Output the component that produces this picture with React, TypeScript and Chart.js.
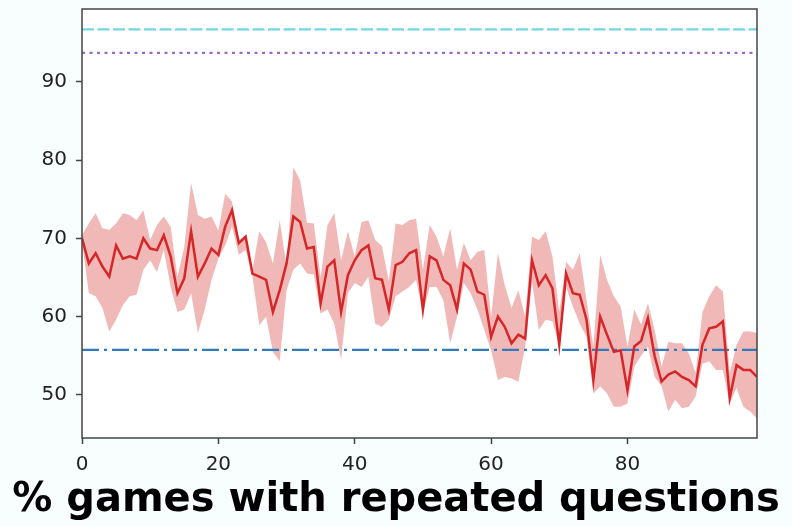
import React, { useEffect, useRef } from "react";
import { Chart, registerables } from "chart.js";

Chart.register(...registerables);

const X_VALUES = [
  0, 1, 2, 3, 4, 5, 6, 7, 8, 9, 10, 11, 12, 13, 14, 15, 16, 17, 18, 19,
  20, 21, 22, 23, 24, 25, 26, 27, 28, 29, 30, 31, 32, 33, 34, 35, 36, 37, 38, 39,
  40, 41, 42, 43, 44, 45, 46, 47, 48, 49, 50, 51, 52, 53, 54, 55, 56, 57, 58, 59,
  60, 61, 62, 63, 64, 65, 66, 67, 68, 69, 70, 71, 72, 73, 74, 75, 76, 77, 78, 79,
  80, 81, 82, 83, 84, 85, 86, 87, 88, 89, 90, 91, 92, 93, 94, 95, 96, 97, 98, 99,
];

const MEAN = [
  70.0, 66.8, 68.1, 66.4, 65.1, 69.1, 67.4, 67.7, 67.4, 70.0,
  68.7, 68.5, 70.4, 67.7, 63.0, 64.9, 70.9, 65.1, 66.8, 68.7,
  67.9, 71.5, 73.6, 69.4, 70.2, 65.5, 65.1, 64.7, 60.6, 63.4,
  66.8, 72.8, 72.1, 68.7, 68.9, 61.7, 66.4, 67.2, 60.6, 65.3,
  67.2, 68.5, 69.1, 64.9, 64.7, 60.9, 66.6, 67.0, 68.1, 68.5,
  60.9, 67.7, 67.2, 64.7, 64.0, 60.9, 66.8, 66.0, 63.2, 62.8,
  57.4, 60.0, 58.7, 56.6, 57.7, 57.2, 67.2, 64.0, 65.3, 63.6,
  56.4, 65.5, 63.0, 62.8, 59.6, 51.9, 60.0, 57.7, 55.5, 55.7,
  50.6, 56.2, 56.9, 59.8, 54.9, 51.7, 52.6, 53.0, 52.3, 51.9,
  51.1, 56.4, 58.5, 58.7, 59.4, 49.6, 53.8, 53.2, 53.2, 52.3,
];

const UPPER = [
  70.4, 71.9, 73.2, 71.3, 71.1, 71.9, 73.2, 73.0, 72.3, 73.6,
  69.8, 71.7, 72.8, 71.5, 65.1, 68.9, 77.1, 73.0, 72.5, 72.8,
  71.0, 75.7, 74.7, 69.8, 70.4, 66.0, 70.9, 69.5, 66.8, 72.3,
  66.4, 79.1, 77.4, 72.0, 71.9, 65.0, 71.7, 73.2, 67.2, 70.9,
  67.7, 72.1, 72.3, 69.8, 69.0, 64.5, 71.9, 71.7, 72.3, 72.5,
  66.0, 71.7, 70.2, 67.7, 71.3, 66.0, 69.4, 67.2, 68.3, 68.5,
  60.0, 68.1, 64.0, 61.1, 63.4, 60.0, 70.2, 69.8, 70.9, 67.7,
  60.6, 67.0, 66.0, 68.1, 62.1, 56.2, 67.9, 64.7, 62.6, 61.3,
  56.2, 60.9, 59.0, 61.7, 58.3, 53.6, 56.8, 56.6, 56.6, 55.3,
  52.8, 60.6, 62.6, 64.0, 63.2, 52.8, 56.4, 58.1, 58.1, 57.9,
];

const LOWER = [
  69.6, 63.0, 62.6, 61.1, 58.1, 59.6, 61.5, 62.6, 62.8, 66.0,
  67.2, 65.7, 68.5, 63.8, 60.6, 60.9, 63.0, 57.9, 60.9, 64.7,
  67.4, 69.1, 71.5, 67.9, 68.5, 65.1, 58.9, 60.0, 55.5, 54.3,
  63.4, 66.0, 66.8, 65.5, 65.4, 60.4, 60.9, 59.1, 54.5, 63.0,
  64.3, 63.8, 65.1, 59.1, 58.7, 59.6, 62.6, 63.2, 63.8, 64.7,
  60.4, 63.8, 63.8, 62.1, 56.6, 60.0, 64.3, 63.0, 60.9, 58.3,
  55.7, 51.9, 52.3, 52.1, 51.7, 56.2, 64.5, 58.3, 59.6, 59.4,
  56.2, 63.8, 61.3, 59.1, 57.4, 50.2, 51.1, 50.2, 48.5, 48.5,
  48.9, 53.6, 55.0, 56.2, 52.3, 51.1, 47.9, 49.4, 48.3, 48.5,
  49.8, 54.0, 54.3, 53.2, 53.2, 48.9, 50.9, 48.5, 47.9, 47.0,
];

const REF_CYAN = 96.7;
const REF_PURPLE = 93.7;
const REF_BLUE = 55.75;

const X_MIN = 0;
const X_MAX = 99;
const Y_MIN = 44.5;
const Y_MAX = 99.3;

const X_TICKS = [0, 20, 40, 60, 80];
const Y_TICKS = [50, 60, 70, 80, 90];

const TITLE = "% games with repeated questions";

const pts = (ys: number[]) => X_VALUES.map((x, i) => ({ x, y: ys[i] }));
const hline = (y: number) => [
  { x: X_MIN, y },
  { x: X_MAX, y },
];

const zeroPad = (s: any) => {
  s.paddingTop = 0;
  s.paddingBottom = 0;
  s.paddingLeft = 0;
  s.paddingRight = 0;
};

const framePlugin = {
  id: "frame",
  beforeDraw(chart: any) {
    const { ctx, chartArea: a, width, height } = chart;
    ctx.save();
    ctx.fillStyle = "#f8fdfe";
    ctx.fillRect(0, 0, width, height);
    ctx.fillStyle = "#ffffff";
    ctx.fillRect(a.left, a.top, a.right - a.left, a.bottom - a.top);
    ctx.restore();
  },
  afterDraw(chart: any) {
    const { ctx, chartArea: a } = chart;
    ctx.save();
    ctx.strokeStyle = "#444444";
    ctx.lineWidth = 1.5;
    ctx.strokeRect(a.left, a.top, a.right - a.left, a.bottom - a.top);
    ctx.restore();
  },
};

export default function App() {
  const ref = useRef<HTMLCanvasElement>(null);

  useEffect(() => {
    document.body.style.margin = "0";
    const canvas = ref.current;
    if (!canvas) return;
    const tickFont = { family: "DejaVu Sans", size: 20 };
    const chart = new Chart(canvas, {
      type: "line",
      data: {
        datasets: [
          {
            data: pts(MEAN),
            borderColor: "#d62728",
            borderWidth: 2.5,
            pointRadius: 0,
            fill: false,
            tension: 0,
          },
          {
            data: hline(REF_BLUE),
            borderColor: "#2f7bbd",
            borderWidth: 2.2,
            borderDash: [17, 5, 3, 5],
            pointRadius: 0,
            fill: false,
          },
          {
            data: hline(REF_PURPLE),
            borderColor: "#9a6bc8",
            borderWidth: 2.2,
            borderDash: [3, 4.5],
            pointRadius: 0,
            fill: false,
          },
          {
            data: hline(REF_CYAN),
            borderColor: "#74d6e2",
            borderWidth: 2.2,
            borderDash: [12, 3.5],
            pointRadius: 0,
            fill: false,
          },
          {
            data: pts(UPPER),
            borderColor: "rgba(0,0,0,0)",
            borderWidth: 0.5,
            backgroundColor: "rgba(214,39,40,0.33)",
            pointRadius: 0,
            fill: "+1",
            tension: 0,
          },
          {
            data: pts(LOWER),
            borderColor: "rgba(0,0,0,0)",
            borderWidth: 0.5,
            pointRadius: 0,
            fill: false,
            tension: 0,
          },
        ],
      },
      options: {
        animation: false,
        responsive: false,
        devicePixelRatio: 1,
        layout: { padding: { top: 9, right: 0, left: 0, bottom: 0 } },
        plugins: {
          legend: { display: false },
          tooltip: { enabled: false },
          title: {
            display: true,
            position: "bottom",
            text: TITLE,
            color: "#000000",
            font: { family: "DejaVu Sans", size: 40, weight: "bold" },
            padding: { top: 0, bottom: 1 },
          },
        },
        scales: {
          x: {
            type: "linear",
            min: X_MIN,
            max: X_MAX,
            afterBuildTicks: (s: any) => {
              s.ticks = X_TICKS.map((v) => ({ value: v }));
            },
            afterFit: (s: any) => {
              s.height = 39;
              zeroPad(s);
            },
            grid: {
              display: true,
              drawOnChartArea: false,
              drawTicks: true,
              tickLength: 6,
              tickColor: "#444444",
              tickWidth: 1.5,
            },
            border: { display: false },
            ticks: {
              color: "#222222",
              font: tickFont,
              padding: 9,
              maxRotation: 0,
              autoSkip: false,
            },
          },
          y: {
            type: "linear",
            min: Y_MIN,
            max: Y_MAX,
            afterBuildTicks: (s: any) => {
              s.ticks = Y_TICKS.map((v) => ({ value: v }));
            },
            afterFit: (s: any) => {
              s.width = 82;
              zeroPad(s);
            },
            grid: {
              display: true,
              drawOnChartArea: false,
              drawTicks: true,
              tickLength: 6,
              tickColor: "#444444",
              tickWidth: 1.5,
            },
            border: { display: false },
            ticks: {
              color: "#222222",
              font: tickFont,
              padding: 9,
              autoSkip: false,
            },
          },
          yRight: {
            type: "linear",
            position: "right",
            display: true,
            grid: { display: false },
            border: { display: false },
            ticks: { display: false },
            afterFit: (s: any) => {
              s.width = 35;
              zeroPad(s);
            },
          },
        },
      },
      plugins: [framePlugin],
    } as any);
    return () => chart.destroy();
  }, []);

  return (
    <div style={{ position: "absolute", left: 0, top: 0, width: 792, height: 526 }}>
      <canvas ref={ref} width={792} height={526} />
    </div>
  );
}
